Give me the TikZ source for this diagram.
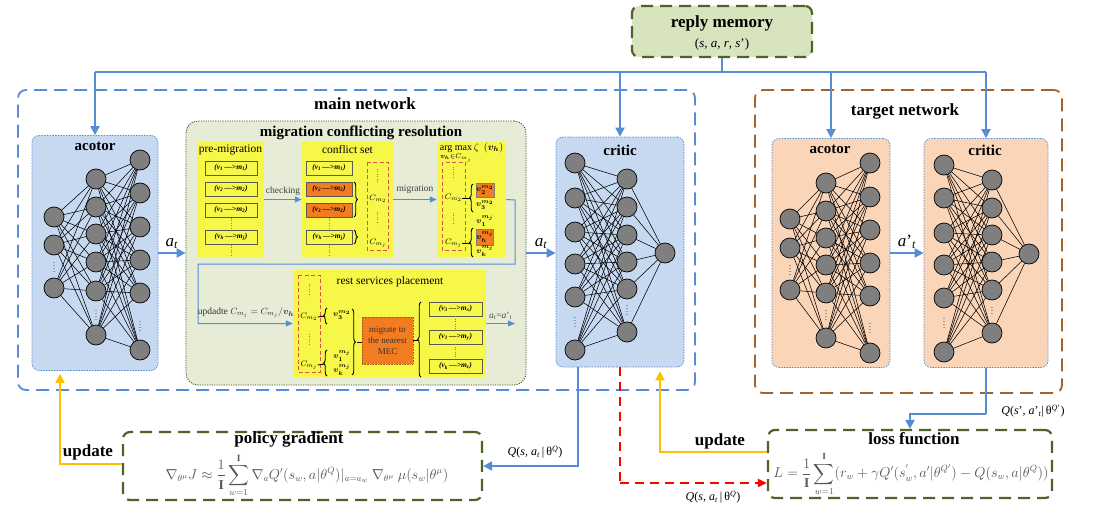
\documentclass[tikz,border=0pt]{standalone}
\usepackage{amsmath,bm}
\usepackage{fontspec}
\setmainfont{Liberation Serif}
\usetikzlibrary{arrows.meta,decorations.pathreplacing,calc}
\pgfdeclarelayer{back}
\pgfdeclarelayer{mid}
\pgfsetlayers{back,mid,main}
\definecolor{bl}{HTML}{558ED5}
\definecolor{bluefill}{HTML}{C6D9F1}
\definecolor{peach}{HTML}{FBD5B8}
\definecolor{olive}{HTML}{4F6228}
\definecolor{oliveFill}{HTML}{D7E4BD}
\definecolor{migFill}{HTML}{E6ECD6}
\definecolor{brn}{HTML}{A5612A}
\definecolor{yel}{HTML}{F7F748}
\definecolor{org}{HTML}{F47C20}
\definecolor{upd}{HTML}{FFC000}
\definecolor{nodegray}{HTML}{7F7F7F}
\definecolor{fgray}{HTML}{555555}
\definecolor{rdash}{HTML}{D9534F}
\newcommand{\vm}[2]{(\textit{v}\textsubscript{\textit{#1}}\,—>\textit{m}\textsubscript{\textit{#2}})}
\newcommand{\nnlayer}[3]{\foreach \yy [count=\ii] in {#3} {\node[neuron] (#1-\ii) at (#2,\yy) {};}}
\newcommand{\nnlink}[4]{\foreach \ii in {1,...,#2} {\foreach \jj in {1,...,#4} {\draw[nnedge] (#1-\ii) -- (#3-\jj);}}}
\begin{document}
\begin{tikzpicture}[x=1pt,y=-1pt,
 neuron/.style={circle,draw=black,fill=nodegray,minimum size=20pt,inner sep=0pt,line width=0.7pt},
 nnedge/.style={draw=black,line width=0.55pt},
 nndots/.style={draw=gray!80,line width=1.1pt,dash pattern=on 1.1pt off 1.9pt},
 pdots/.style={draw=gray,line width=0.8pt,dash pattern=on 0.8pt off 1.6pt},
 netbox/.style={draw=bl,fill=bluefill,dash pattern=on 1.5pt off 1.2pt,line width=0.7pt,rounded corners=7pt,inner sep=0pt},
 bigdash/.style={draw=bl,line width=1.8pt,dash pattern=on 13pt off 7pt,rounded corners=8pt,inner sep=0pt},
 olivebox/.style={draw=olive,line width=2.2pt,dash pattern=on 12pt off 7pt,rounded corners=7pt,inner sep=0pt},
 bigtitle/.style={font=\fontsize{17}{17}\selectfont\bfseries,inner sep=1pt},
 subtitle/.style={font=\fontsize{15}{15}\selectfont\bfseries,inner sep=1pt},
 smalltitle/.style={font=\fontsize{11.5}{12}\selectfont,inner sep=1pt},
 panel/.style={fill=yel,inner sep=0pt},
 pairbox/.style={draw=black!65,fill=yel,minimum width=52pt,minimum height=14pt,inner sep=0pt,line width=0.8pt,font=\fontsize{7.5}{8}\selectfont\bfseries\itshape},
 cl/.style={font=\fontsize{8}{8}\selectfont,inner sep=0pt},
 vl/.style={font=\fontsize{8}{8}\selectfont,inner sep=0pt},
 brc/.style={draw=black,line width=0.9pt,decorate,decoration={brace,amplitude=3.5pt}},
 rbox/.style={draw=rdash,line width=0.8pt,dash pattern=on 4pt off 2.5pt},
 flow/.style={draw=bl,line width=2pt,-{Triangle[length=9pt,width=9pt]}},
 bline/.style={draw=bl,line width=2pt},
 sflow/.style={draw=bl,line width=1pt,-{Triangle[length=7pt,width=6pt]}},
 reddash/.style={draw=red,line width=1.8pt,dash pattern=on 9pt off 6pt},
 updflow/.style={draw=upd,line width=1.8pt,-{Triangle[length=9pt,width=9pt]}},
 lbl/.style={font=\fontsize{17}{17}\selectfont,inner sep=1pt},
 qlbl/.style={font=\fontsize{12}{12}\selectfont,inner sep=1pt},
 form/.style={font=\fontsize{13.5}{15}\selectfont,text=fgray,inner sep=0pt}
]
\useasboundingbox (0,0) rectangle (1093,511);
\begin{pgfonlayer}{back}
\fill[white] (0,0) rectangle (1093,511);
\node[netbox,minimum width=126pt,minimum height=235pt] (actor) at (95,253) {};
\node[netbox,minimum width=128pt,minimum height=230pt] (critic) at (620,252) {};
\node[netbox,fill=peach,minimum width=118pt,minimum height=229pt] (tactor) at (831,253) {};
\node[netbox,fill=peach,minimum width=124pt,minimum height=229pt] (tcritic) at (986,253) {};
\end{pgfonlayer}

% big frames
\node[bigdash,minimum width=677pt,minimum height=300pt] (mainnet) at (356.5,240) {};
\node[bigdash,draw=brn,minimum width=307pt,minimum height=303pt] (target) at (908.5,241.5) {};
\node[bigtitle] (mainT) at (365,104) {main network};
\node[bigtitle] (targetT) at (905,111) {target network};

% reply memory
\node[olivebox,fill=oliveFill,minimum width=180pt,minimum height=51pt] (reply) at (722,31.5) {};
\node[bigtitle] (replyT) at (722,23) {reply memory};
\node[font=\fontsize{13}{13}\selectfont,inner sep=1pt] (replyS) at (722,44) {(\textit{s}, \textit{a}, \textit{r}, \textit{s}')};

% titles of networks
\node[subtitle] (actorT) at (95,146) {acotor};
\node[subtitle] (criticT) at (620,150) {critic};
\node[subtitle] (tactorT) at (830,149) {acotor};
\node[subtitle] (tcriticT) at (985,150) {critic};

% neurons
\nnlayer{aA}{54}{217,245,288}
\nnlayer{aB}{96}{179,207,234,262,291,335}
\nnlayer{aC}{140}{160,193,227,260,293,350}
\nnlayer{cA}{575}{163,198,232,264,297,350}
\nnlayer{cB}{627}{179,207,235,262,289,332}
\nnlayer{cO}{665}{253}
\nnlayer{tA}{790}{219,248,290}
\nnlayer{tB}{826}{183,211,238,265,293,338}
\nnlayer{tC}{870}{163,197,230,263,296,353}
\nnlayer{uA}{944}{165,198,233,265,298,352}
\nnlayer{uB}{992}{180,208,235,262,290,333}
\nnlayer{uO}{1029}{254}
\begin{pgfonlayer}{mid}
\nnlink{aA}{3}{aB}{6}\nnlink{aB}{6}{aC}{6}
\nnlink{cA}{6}{cB}{6}\nnlink{cB}{6}{cO}{1}
\nnlink{tA}{3}{tB}{6}\nnlink{tB}{6}{tC}{6}
\nnlink{uA}{6}{uB}{6}\nnlink{uB}{6}{uO}{1}
\draw[nndots] (54,262)--(54,273); \draw[nndots] (96,310)--(96,321); \draw[nndots] (140,321)--(140,332);
\draw[nndots] (575,317)--(575,328); \draw[nndots] (627,305)--(627,316);
\draw[nndots] (790,265)--(790,276); \draw[nndots] (826,310)--(826,321); \draw[nndots] (870,323)--(870,334);
\draw[nndots] (944,318)--(944,329); \draw[nndots] (992,307)--(992,316);
\end{pgfonlayer}

% migration conflicting resolution
\node[draw=olive!80!black,fill=migFill,dash pattern=on 1.2pt off 1.2pt,line width=0.8pt,rounded corners=12pt,minimum width=340pt,minimum height=264pt,inner sep=0pt] (mig) at (356,253) {};
\node[subtitle] (migT) at (361,133) {migration conflicting resolution};

\node[panel,minimum width=67pt,minimum height=115pt] (pre) at (230.5,199.5) {};
\node[panel,minimum width=91pt,minimum height=115pt] (conf) at (347.5,199.5) {};
\node[panel,minimum width=69pt,minimum height=115pt] (argp) at (471.5,199.5) {};
\node[panel,minimum width=193pt,minimum height=107pt] (rest) at (389.5,323.5) {};

\node[smalltitle] (preT) at (230.5,150) {pre-migration};
\node[smalltitle] (confT) at (347.5,150) {conflict set};
\node[font=\fontsize{10}{10}\selectfont,inner sep=0pt] (argT) at (471.5,153) {$\mathop{\text{arg max}}\limits_{\bm{v_h}\in C_{m_j}}\zeta\ \ (\bm{v_h})$};
\node[smalltitle] (restT) at (390,282) {rest services placement};

% pre-migration pairs
\node[pairbox] (pm1) at (231,168) {\vm{1}{1}};
\node[pairbox] (pm2) at (231,189) {\vm{2}{2}};
\node[pairbox] (pm3) at (231,210) {\vm{3}{2}};
\node[pairbox] (pm4) at (231,237) {\vm{h}{j}};
\draw[pdots] (231,218)--(231,229); \draw[pdots] (231,245)--(231,256);
% conflict set pairs
\node[pairbox,minimum width=46pt] (cs1) at (329,168) {\vm{1}{1}};
\node[pairbox,minimum width=46pt,fill=org] (cs2) at (329,189) {\vm{2}{2}};
\node[pairbox,minimum width=46pt,fill=org] (cs3) at (329,210) {\vm{3}{2}};
\node[pairbox,minimum width=46pt] (cs4) at (329,237) {\vm{h}{j}};
\draw[pdots] (329,218)--(329,229); \draw[pdots] (329,245)--(329,256);
\draw[brc] (354,182)--(354,217);
\draw[brc] (354,230)--(354,244);
\draw[rbox] (367,162) rectangle (388,250);
\draw[pdots] (377,169)--(377,182); \draw[pdots] (377,212)--(377,224);
\node[cl] (c2a) at (378,199) {$C_{m_2}$};
\node[cl] (cja) at (378,243) {$C_{m_j}$};

\draw[sflow] (pre.east) -- (conf.west) node[midway,above=3pt,font=\fontsize{9.5}{10}\selectfont,text=black!75,inner sep=0pt] {checking};
\draw[sflow] (conf.east) -- (argp.west) node[midway,above=5pt,font=\fontsize{9.5}{10}\selectfont,text=black!75,inner sep=0pt] {migration};

% argmax panel
\draw[rbox] (442,162) rectangle (465,250);
\draw[pdots] (453,167)--(453,179); \draw[pdots] (453,213)--(453,224);
\node[cl] (c2b) at (453.5,198) {$C_{m_2}$};
\node[cl] (cjb) at (453.5,243) {$C_{m_j}$};
\draw[line width=0.9pt] (c2b.east) -- (471,198);
\draw[line width=0.9pt] (cjb.east) -- (471,243);
\draw[brc] (473,212)--(473,184);
\draw[brc] (473,257)--(473,228);
\node[fill=org,draw=black!50,line width=0.4pt,minimum width=16pt,minimum height=14pt,inner sep=0pt,vl] (v2) at (485,190) {$\bm{v_2^{m_2}}$};
\node[vl] (v3) at (485,205) {$\bm{v_3^{m_2}}$};
\node[vl] (v1) at (485,221) {$\bm{v_1^{m_j}}$};
\node[fill=org,draw=black!50,line width=0.4pt,minimum width=16pt,minimum height=16pt,inner sep=0pt,vl] (vh) at (485,237) {$\bm{v_h^{m_j}}$};
\node[vl] (vk) at (485,251) {$\bm{v_k^{m_j}}$};

% loop back
\coordinate (lp1) at (515,200);
\coordinate (lp2) at (198,264);
\draw[sflow] (argp.east) -- (lp1) |- (lp2) |- (rest.west);
\node[font=\fontsize{9.5}{10}\selectfont,text=black!80,inner sep=0pt] (updl) at (246,313) {updadte $C_{m_j}=C_{m_j}/\bm{v_h}$};

% rest services placement
\draw[rbox] (298,275) rectangle (320,372);
\draw[pdots] (309,284)--(309,296); \draw[pdots] (309,334)--(309,345);
\node[cl] (c2c) at (309,317) {$C_{m_2}$};
\node[cl] (cjc) at (309,365) {$C_{m_j}$};
\draw[line width=0.9pt] (c2c.east) -- (325,316);
\draw[line width=0.9pt] (cjc.east) -- (325,364);
\draw[brc] (327,324)--(327,308);
\draw[brc] (327,376)--(327,350);
\node[vl] (w3) at (342,315) {$\bm{v_3^{m_2}}$};
\node[vl] (w1) at (342,356) {$\bm{v_1^{m_j}}$};
\node[vl] (wk) at (342,370) {$\bm{v_k^{m_j}}$};
\draw[brc] (352,309)--(352,375);
\node[fill=org,draw=org!70!black,dash pattern=on 0.8pt off 0.8pt,line width=0.4pt,minimum width=51pt,minimum height=47pt,inner sep=0pt,align=center,font=\fontsize{9}{11}\selectfont,text=black!80] (mec) at (387.5,340.5) {migrate to\\the nearest\\MEC};
\coordinate (bt) at (357,342);
\draw[line width=0.9pt] (bt) -- (mec.west |- bt);
\coordinate (bo) at (419,340);
\draw[line width=0.9pt] (mec.east |- bo) -- (bo);
\draw[brc] (421,377)--(421,302);
\node[pairbox,minimum width=53pt] (rs1) at (455.5,309) {\vm{3}{x}};
\node[pairbox,minimum width=53pt] (rs2) at (455.5,337) {\vm{1}{y}};
\node[pairbox,minimum width=53pt] (rs3) at (455.5,366) {\vm{k}{z}};
\draw[pdots] (rs1.south) -- (rs2.north);
\draw[pdots] (rs2.south) -- (rs3.north);
\coordinate (restout) at (515,323.5);
\draw[sflow] (rest.east) -- (restout) node[midway,above=3pt,font=\fontsize{9.5}{10}\selectfont,text=black!70,inner sep=0pt] {\textit{a}\textsubscript{\textit{t}}=\textit{a}'\textsubscript{\textit{t}}};

% bus from reply memory
\coordinate (bus) at (722,72);
\coordinate (busL) at (95,72);
\coordinate (busR) at (986,72);
\draw[bline] (reply.south) -- (bus);
\draw[bline] (busL) -- (busR);
\draw[flow] (bus -| actor.north) -- (actor.north);
\draw[flow] (bus -| critic.north) -- (critic.north);
\draw[flow] (bus -| tactor.north) -- (tactor.north);
\draw[flow] (bus -| tcritic.north) -- (tcritic.north);

% a_t arrows
\draw[flow] (actor.east) -- (actor.east -| mig.west) node[midway,above=2pt,lbl] {\textit{a}\textsubscript{\textit{t}}};
\draw[flow] (mig.east) -- (mig.east -| critic.west) node[midway,above=2pt,lbl] {\textit{a}\textsubscript{\textit{t}}};
\draw[flow] (tactor.east) -- (tactor.east -| tcritic.west) node[midway,above=2pt,lbl] {\textit{a}'\textsubscript{\textit{t}}};

% bottom boxes
\node[olivebox,minimum width=359pt,minimum height=68pt] (policy) at (302.5,466) {};
\node[olivebox,minimum width=284pt,minimum height=68pt] (loss) at (910,464) {};
\node[bigtitle,inner sep=0pt] (polT) at (289,439) {policy gradient};
\node[bigtitle,inner sep=0pt] (lossT) at (914,439) {loss function};
\node[form] (polF) at (307,475.5) {$\displaystyle \nabla_{\theta^{\mu}} J \approx \frac{1}{\mathbf{I}}\sum_{w=1}^{\mathbf{I}} \nabla_a Q'(s_w,a|\theta^Q)|_{a=a_w}\ \nabla_{\theta^\mu}\ \mu(s_w|\theta^\mu)$};
\node[form] (lossF) at (911,474) {$\displaystyle L=\frac{1}{\mathbf{I}}\sum_{w=1}^{\mathbf{I}}(r_w+\gamma Q'(s^{'}_w,a'|\theta^{Q'})-Q(s_w,a|\theta^Q))$};

% connectors at the bottom
\coordinate (cq) at ($(critic.south)+(-42,0)$);
\draw[flow] (cq) |- (policy.east);
\coordinate (rc) at ($(critic.south |- loss.west)+(0,19)$);
\coordinate (lossin) at ($(loss.west)+(0,19)$);
\draw[reddash] (critic.south) -- (rc);
\draw[reddash,-{Triangle[length=9pt,width=8pt]}] (rc) -- (lossin);
\coordinate (cup) at ($(critic.south)+(40,4)$);
\coordinate (lossup) at ($(loss.west)+(0,-12)$);
\draw[updflow] (lossup) -| (cup);
\coordinate (aup) at ($(actor.south)+(-35,3)$);
\coordinate (polup) at ($(policy.west)+(0,-2)$);
\draw[updflow] (polup) -| (aup);
\coordinate (tq) at ($(tcritic.south)+(0,46)$);
\draw[bline] (tcritic.south) -- (tq);
\draw[flow] (tq) -| (loss.north);

\node[qlbl] (q1) at (535,452) {\textit{Q}(\textit{s}, \textit{a}\textsubscript{\textit{t}}\,|\,θ\textsuperscript{\textit{Q}})};
\node[qlbl] (q2) at (713,497) {\textit{Q}(\textit{s}, \textit{a}\textsubscript{\textit{t}}\,|\,θ\textsuperscript{\textit{Q}})};
\node[qlbl] (q3) at (1033,411) {\textit{Q}(\textit{s}', \textit{a}'\textsubscript{\textit{t}}|\,θ\textsuperscript{\textit{Q}'})};
\node[bigtitle] (upl) at (88,452) {update};
\node[bigtitle] (upr) at (720,441) {update};
\end{tikzpicture}
\end{document}
